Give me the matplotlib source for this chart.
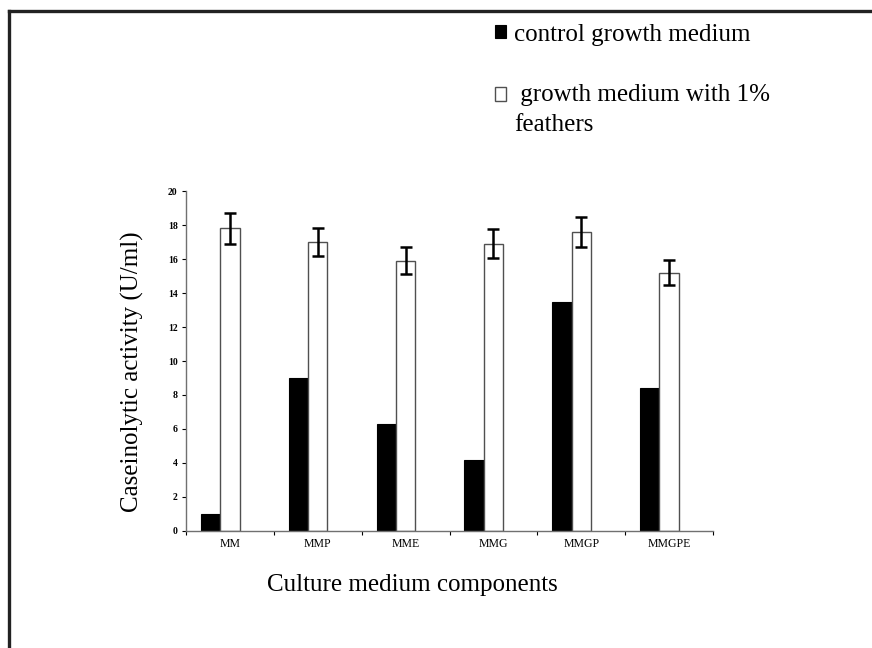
"""Caseinolytic activity by culture medium, control vs. 1% feathers."""
import matplotlib
matplotlib.use("Agg")
import matplotlib.pyplot as plt
from matplotlib.lines import Line2D
from matplotlib.patches import Rectangle
from matplotlib.legend_handler import HandlerPatch
import numpy as np

plt.rcParams["font.family"] = ["Liberation Serif", "DejaVu Serif"]

media = ["MM", "MMP", "MME", "MMG", "MMGP", "MMGPE"]
control = [1.0, 9.0, 6.3, 4.2, 13.5, 8.4]
feathers = [17.8, 17.0, 15.9, 16.9, 17.6, 15.2]
feathers_err = [0.9, 0.8, 0.8, 0.85, 0.9, 0.75]

x = np.arange(len(media))
width = 0.22

fig = plt.figure(figsize=(8.72, 6.48), dpi=100)
ax = fig.add_axes([0.2133, 0.1806, 0.6044, 0.5246])

b1 = ax.bar(x - 0.22, control, width, color="black", edgecolor="black",
            linewidth=0.8)
b2 = ax.bar(x, feathers, width, color="white", edgecolor="#505050",
            linewidth=1.0)
ax.errorbar(x, feathers, yerr=feathers_err, fmt="none", ecolor="black",
            elinewidth=1.8, capsize=4.2, capthick=1.8)

ax.set_xlim(-0.5, len(media) - 0.5)
ax.set_ylim(0, 20)
ax.set_yticks(np.arange(0, 21, 2))
ax.tick_params(axis="y", labelsize=7, length=3, width=0.8, pad=3)
for t in ax.get_yticklabels():
    t.set_fontweight("bold")

# ticks on the group boundaries, labels at the group centres
ax.set_xticks(np.arange(-0.5, len(media), 1.0))
ax.set_xticklabels([])
ax.set_xticks(x, minor=True)
ax.set_xticklabels(media, minor=True)
ax.tick_params(axis="x", which="major", length=3, width=0.8)
ax.tick_params(axis="x", which="minor", length=0, labelsize=8.5, pad=5)

for side in ("top", "right"):
    ax.spines[side].set_visible(False)
for side in ("left", "bottom"):
    ax.spines[side].set_color("#707070")
    ax.spines[side].set_linewidth(1.0)

ax.set_ylabel("Caseinolytic activity (U/ml)", fontsize=18)
ax.yaxis.set_label_coords(-0.08, 0.47)
ax.set_xlabel("Culture medium components", fontsize=18)
ax.xaxis.set_label_coords(0.43, -0.127)


def first_line_box(legend, orig_handle, xdescent, ydescent, width, height,
                   fontsize):
    # keep the swatch level with the first line of a two-line label
    return Rectangle((-xdescent, -ydescent + 0.62 * fontsize), width, height)


ctrl_patch, feath_patch = b1.patches[0], b2.patches[0]
leg = fig.legend([ctrl_patch, feath_patch],
                 ["control growth medium", " growth medium with 1%\nfeathers"],
                 loc="upper left", bbox_to_anchor=(482 / 872, 1 - 11 / 648),
                 frameon=False, fontsize=18, borderpad=0,
                 handlelength=0.45, handleheight=0.45,
                 handletextpad=0.35, labelspacing=1.55,
                 handler_map={feath_patch: HandlerPatch(patch_func=first_line_box)})
for t in leg.get_texts():
    t.set_linespacing(1.45)

# page frame along the top and left edges
frame_kw = dict(color="#222222", linewidth=2.4, transform=fig.transFigure)
top = 1 - 11 / 648
left = 9 / 872
fig.add_artist(Line2D([left, 1.0], [top, top], **frame_kw))
fig.add_artist(Line2D([left, left], [0.0, top], **frame_kw))

fig.savefig("out.png", dpi=100)
